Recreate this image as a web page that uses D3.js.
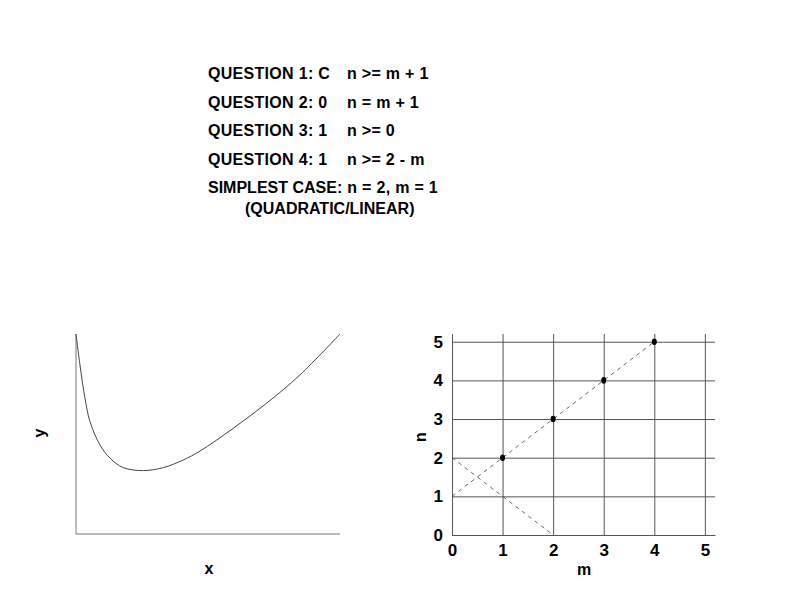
<!DOCTYPE html>
<html>
<head>
<meta charset="utf-8">
<script src="https://cdn.jsdelivr.net/npm/d3@7"></script>
<style>
  html, body { margin: 0; padding: 0; background: #fff; }
  svg { display: block; font-family: "Liberation Sans", Arial, Helvetica, sans-serif; }
</style>
</head>
<body>
<svg id="chart" width="792" height="612"></svg>
<script>
// ---- data ----
const questionLabels = ["QUESTION 1: C", "QUESTION 2: 0", "QUESTION 3: 1", "QUESTION 4: 1", "SIMPLEST CASE:"];
const questionFormulas = ["n >= m + 1", "n = m + 1", "n >= 0", "n >= 2 - m", "n = 2, m = 1"];
const subNote = "(QUADRATIC/LINEAR)";

// left plot curve (unitless)
const curveX = [0.0, 0.015, 0.034, 0.053, 0.091, 0.129, 0.179, 0.255, 0.331, 0.406, 0.470, 0.596, 0.722, 0.848, 1.0];
const curveY = [1.0, 0.845, 0.679, 0.562, 0.445, 0.379, 0.332, 0.317, 0.332, 0.370, 0.415, 0.529, 0.654, 0.795, 1.0];

// right plot
const mTicks = [0, 1, 2, 3, 4, 5];
const nTicks = [0, 1, 2, 3, 4, 5];
const pointM = [1, 2, 3, 4];
const pointN = [2, 3, 4, 5];
const lineA_M = [0, 4], lineA_N = [1, 5];   // n = m + 1
const lineB_M = [0, 2], lineB_N = [2, 0];   // n = 2 - m

const svg = d3.select("#chart");

// ---- text block ----
const tb = svg.append("g").attr("font-weight", "bold").attr("font-size", 16)
  .attr("fill", "#000");
const baselines = [79, 107.5, 136, 164.5, 193];
questionLabels.forEach((t, i) => {
  const lab = tb.append("text").attr("x", 208).attr("y", baselines[i])
    .attr("letter-spacing", i === 4 ? 0 : 0.3).text(t);
  const end = 208 + lab.node().getComputedTextLength();
  tb.append("text").attr("x", Math.max(347, end + 5)).attr("y", baselines[i])
    .attr("letter-spacing", 0.3).text(questionFormulas[i]);
});
tb.append("text").attr("x", 245).attr("y", 214).text(subNote);

// ---- left plot ----
const lx = d3.scaleLinear().domain([0, 1]).range([76, 340]);
const ly = d3.scaleLinear().domain([0, 1]).range([534, 334]);
const left = svg.append("g");
left.append("path")
  .attr("d", d3.line()([[lx(0), ly(1)], [lx(0), ly(0)], [lx(1), ly(0)]]))
  .attr("fill", "none").attr("stroke", "#777").attr("stroke-width", 1);
const curvePts = curveX.map((x, i) => [x, curveY[i]]);
left.append("path")
  .datum(curvePts)
  .attr("d", d3.line().x(d => lx(d[0])).y(d => ly(d[1])).curve(d3.curveCatmullRom.alpha(0.5)))
  .attr("fill", "none").attr("stroke", "#444").attr("stroke-width", 1);
left.append("text").attr("x", 209).attr("y", 574).attr("text-anchor", "middle")
  .attr("font-weight", "bold").attr("font-size", 16).text("x");
left.append("text").attr("transform", "translate(45,433) rotate(-90)").attr("text-anchor", "middle")
  .attr("font-weight", "bold").attr("font-size", 16).text("y");

// ---- right plot ----
const rx = d3.scaleLinear().domain([0, 5.2]).range([452, 715]);
const ry = d3.scaleLinear().domain([0, 5.2]).range([535, 334]);
const right = svg.append("g");
const gridColor = "#555";

const xAxis = d3.axisBottom(rx).tickValues(mTicks).tickFormat(d3.format("d"))
  .tickSizeInner(-(ry(0) - ry(5.2))).tickSizeOuter(0).tickPadding(9);
const gx = right.append("g").attr("transform", `translate(0,${ry(0)})`).call(xAxis);
const yAxis = d3.axisLeft(ry).tickValues(nTicks).tickFormat(d3.format("d"))
  .tickSizeInner(-(rx(5.2) - rx(0))).tickSizeOuter(0).tickPadding(9);
const gy = right.append("g").attr("transform", `translate(${rx(0)},0)`).call(yAxis);
[gx, gy].forEach(g => {
  g.selectAll("line").attr("stroke", gridColor).attr("stroke-width", 1);
  g.select(".domain").attr("stroke", gridColor).attr("stroke-width", 1);
  g.selectAll("text").attr("font-family", "Liberation Sans, Arial, sans-serif")
    .attr("font-size", 17).attr("font-weight", "bold").attr("fill", "#000");
});

const lineGen = d3.line().x(d => rx(d[0])).y(d => ry(d[1]));
[[lineA_M, lineA_N], [lineB_M, lineB_N]].forEach(([ms, ns]) => {
  right.append("path")
    .datum(ms.map((m, i) => [m, ns[i]]))
    .attr("d", lineGen)
    .attr("fill", "none").attr("stroke", "#444").attr("stroke-width", 0.8)
    .attr("stroke-dasharray", "4,4");
});
right.selectAll("ellipse.pt").data(pointM.map((m, i) => [m, pointN[i]])).enter()
  .append("ellipse").attr("class", "pt")
  .attr("cx", d => rx(d[0])).attr("cy", d => ry(d[1]))
  .attr("rx", 2.5).attr("ry", 3.3).attr("fill", "#000");

right.append("text").attr("x", 584).attr("y", 575).attr("text-anchor", "middle")
  .attr("font-weight", "bold").attr("font-size", 16).text("m");
right.append("text").attr("transform", "translate(426,437) rotate(-90)").attr("text-anchor", "middle")
  .attr("font-weight", "bold").attr("font-size", 16).text("n");
</script>
</body>
</html>
